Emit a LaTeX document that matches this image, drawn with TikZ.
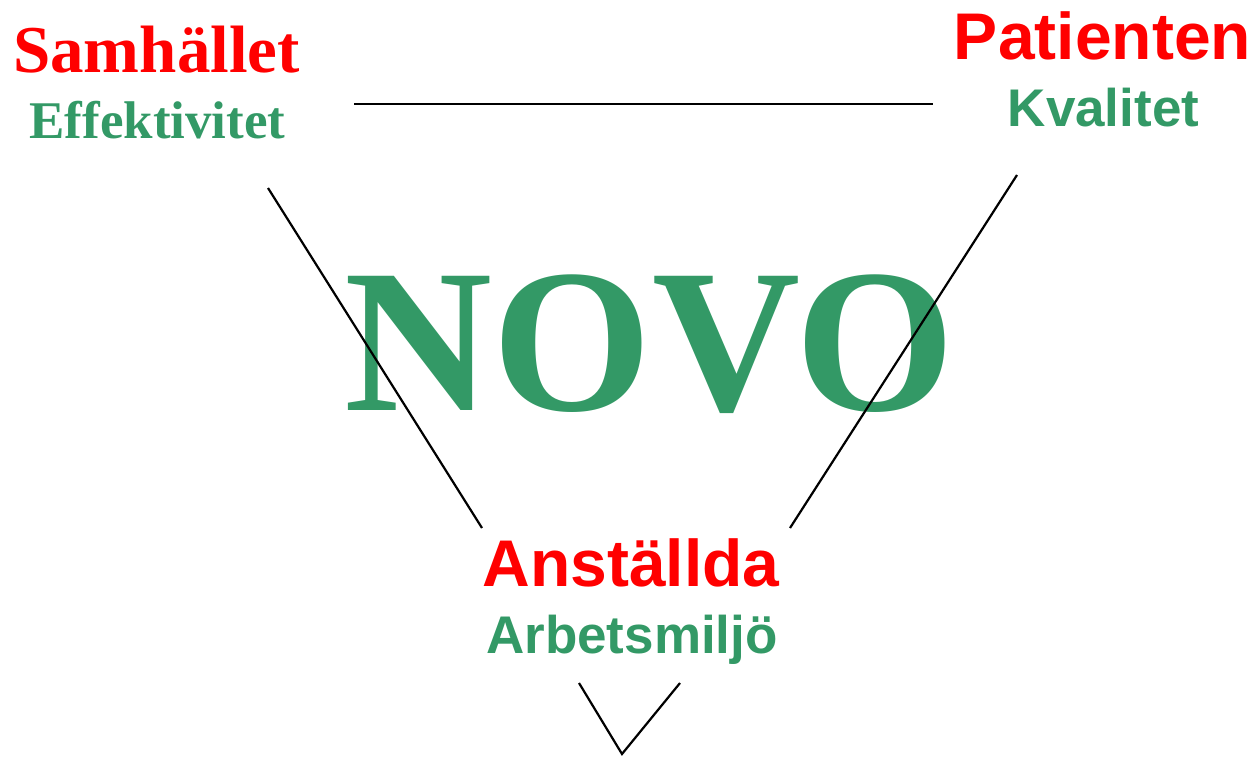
\documentclass[tikz,border=0pt]{standalone}
\usepackage{fontspec}
\setmainfont{Liberation Serif}
\newfontfamily\arialfont{Liberation Sans}
\definecolor{novogreen}{RGB}{51,153,102}
\definecolor{novored}{RGB}{255,0,0}

\begin{document}
\begin{tikzpicture}[x=1pt, y=1pt,
  serifhead/.style={anchor=base, text=novored, font=\fontsize{67}{67}\selectfont\bfseries},
  serifsub/.style={anchor=base, text=novogreen, font=\fontsize{53}{53}\selectfont\bfseries},
  sanshead/.style={anchor=base, text=novored, font=\arialfont\fontsize{66}{66}\selectfont\bfseries},
  sanssub/.style={anchor=base, text=novogreen, font=\arialfont\fontsize{53}{53}\selectfont\bfseries},
  edge/.style={black, line width=2.2pt}]
\path[use as bounding box] (0,0) rectangle (1257,756);
% labels
\node[serifhead] (samh) at (156.5,683) {Samhället};
\node[serifsub] (eff) at (157.5,617) {Effektivitet};
\node[sanshead] (pat) at (1102.5,696) {Patienten};
\node[sanssub] (kval) at (1103.5,629) {Kvalitet};
\node[sanshead] (anst) at (631,170) {Anställda};
\node[sanssub] (arb) at (632,103) {Arbetsmiljö};
\node[anchor=base, text=novogreen, font=\fontsize{205}{205}\selectfont\bfseries] (novo) at (650,346) {NOVO};
% triangle ends
\coordinate (topL) at (354,652);
\coordinate (topR) at (933,652);
\coordinate (leftA) at (268,568);
\coordinate (leftB) at (482,228);
\coordinate (rightA) at (1017,581);
\coordinate (rightB) at (790,228);
\coordinate (vL) at (579,73);
\coordinate (vTip) at (622,2);
\coordinate (vR) at (680,73);
\draw[edge] (topL) -- (topR);
\draw[edge] (leftA) -- (leftB);
\draw[edge] (rightA) -- (rightB);
\draw[edge] (vL) -- (vTip) -- (vR);
\end{tikzpicture}
\end{document}
